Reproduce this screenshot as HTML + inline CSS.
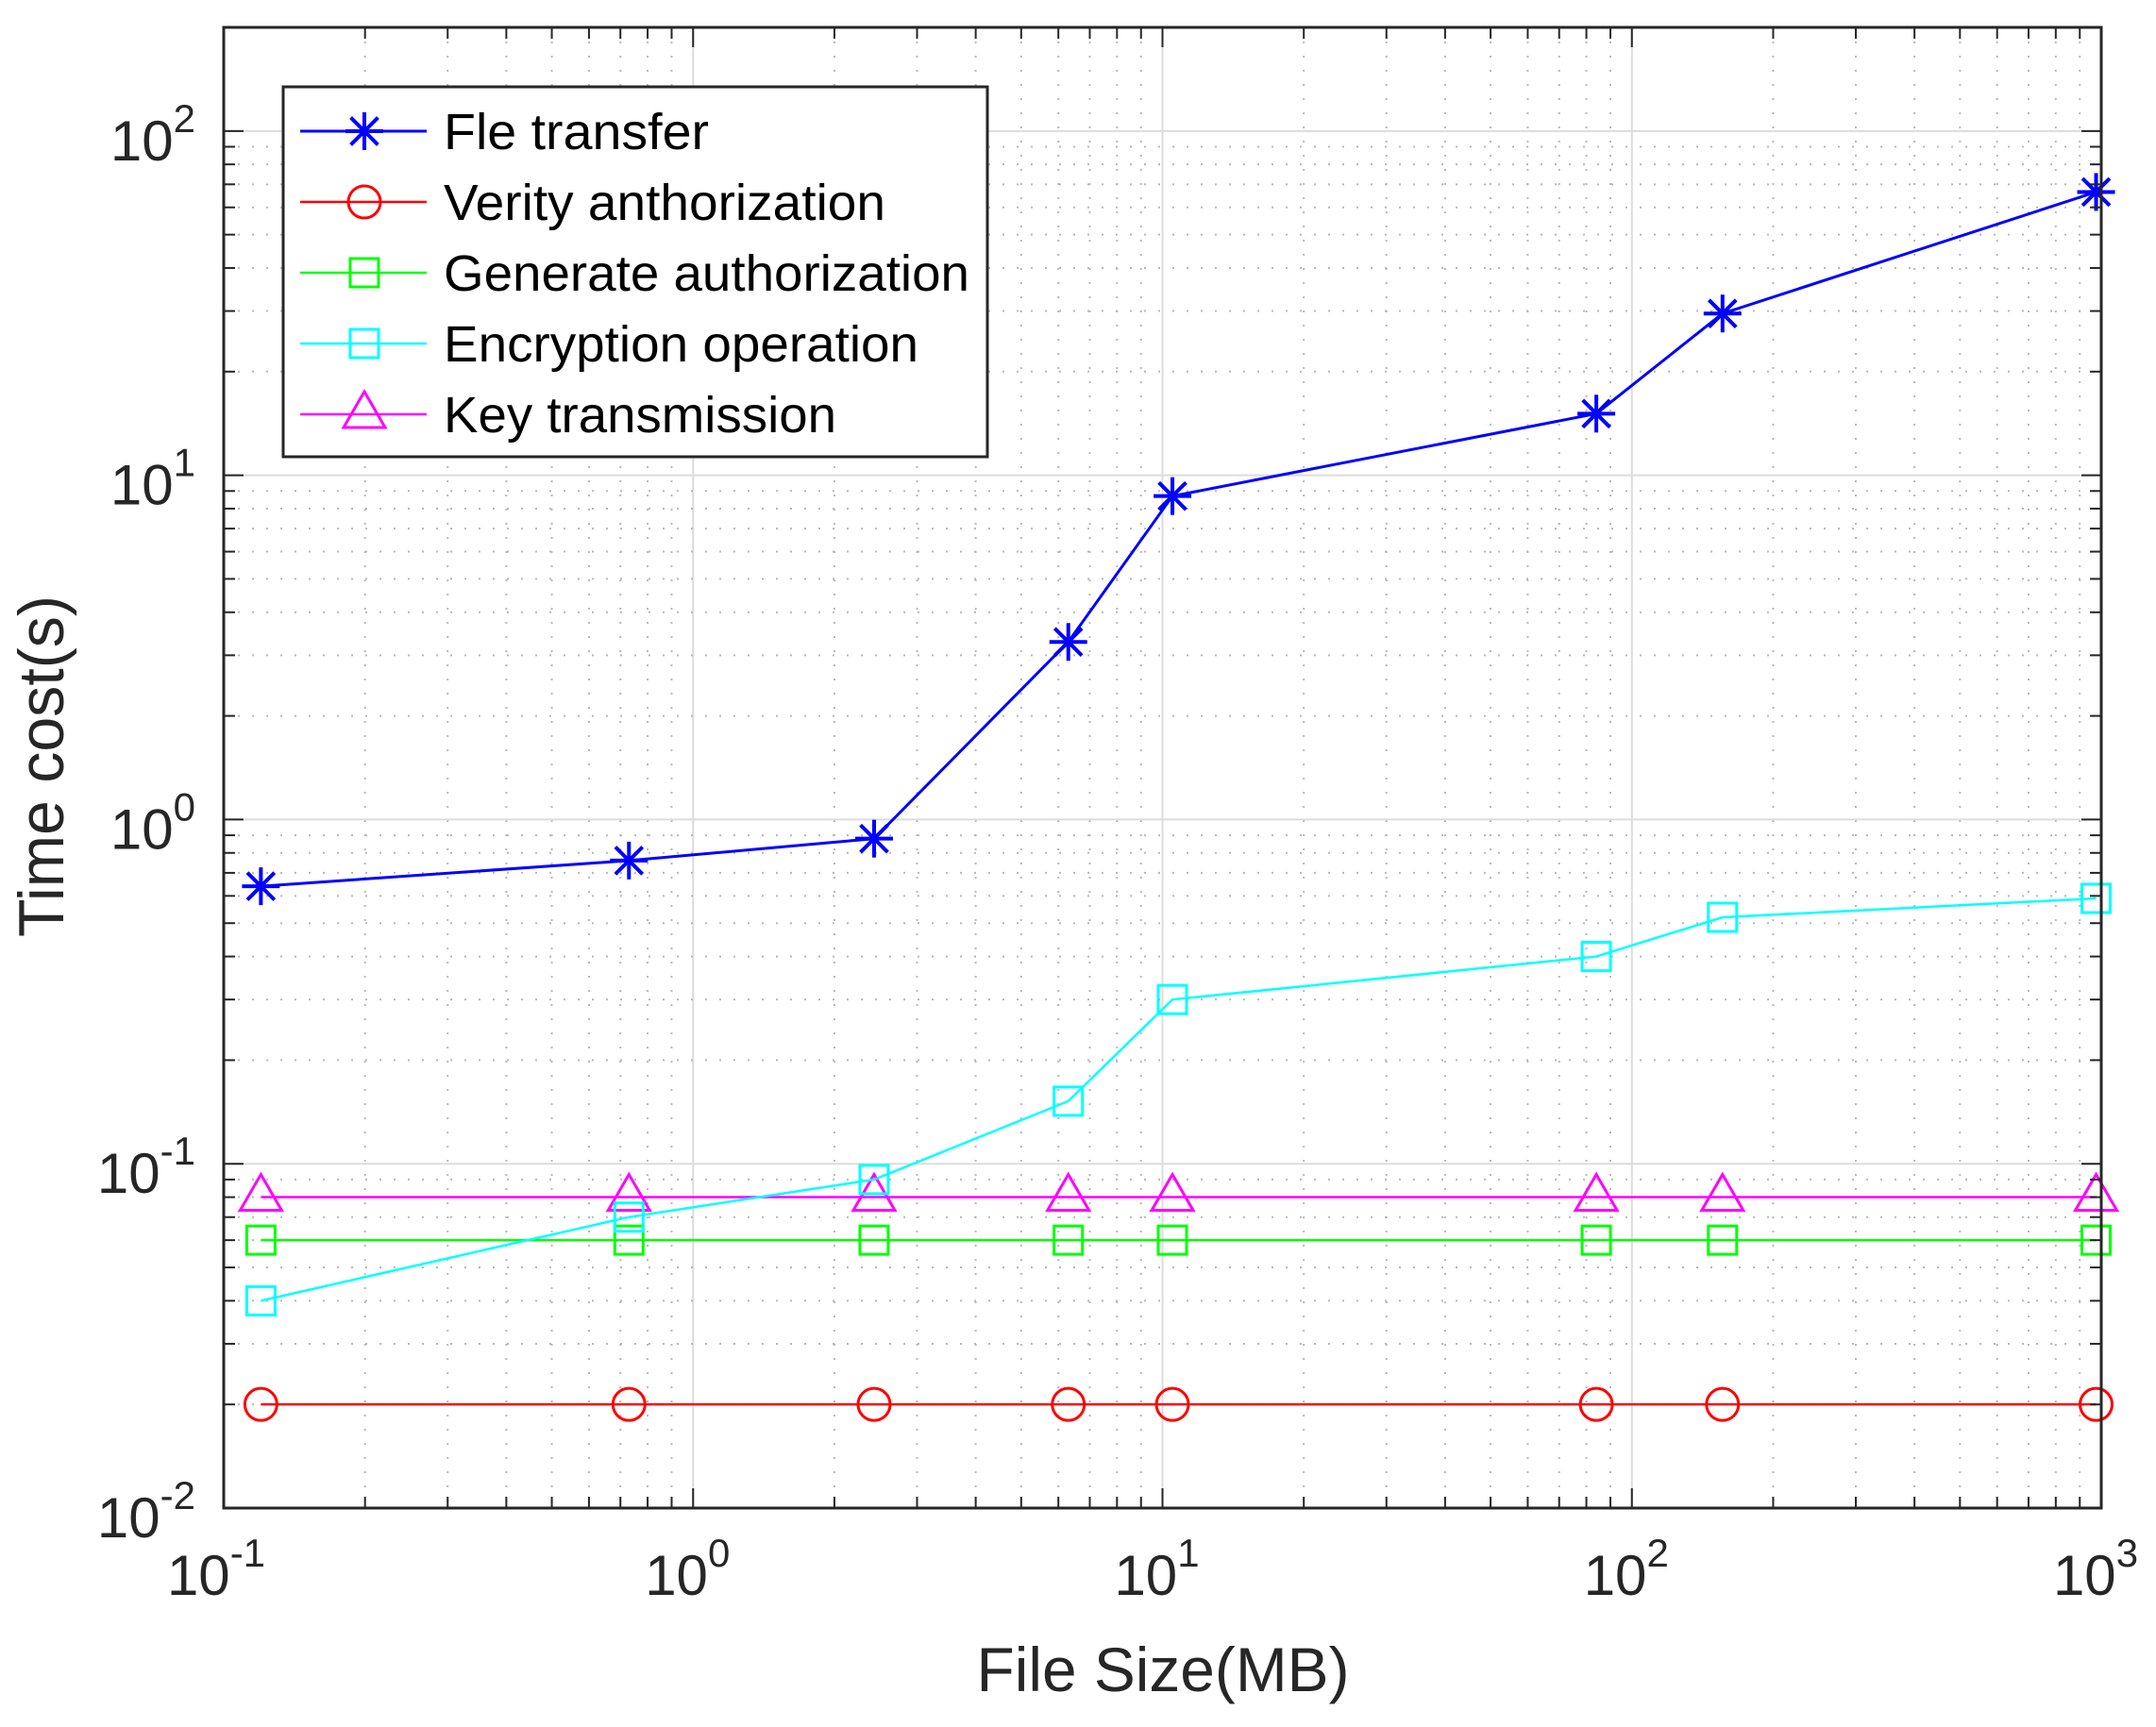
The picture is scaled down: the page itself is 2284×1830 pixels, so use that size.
<!DOCTYPE html>
<html><head><meta charset="utf-8"><style>
html,body{margin:0;padding:0;background:#fff;}
svg{display:block;font-family:"Liberation Sans",sans-serif;}
</style></head><body>
<svg id="chart" width="2284" height="1830" viewBox="0 0 2284 1830" xmlns="http://www.w3.org/2000/svg">
<rect width="2284" height="1830" fill="#fff"/>
<g id="grid"></g>
<g id="series"></g>
<g id="axes"></g>
<g id="legend"></g>
</svg>
<script>
const xValues = [0.12, 0.73, 2.43, 6.3, 10.5, 84, 156, 975];
const fileTransfer = [0.64, 0.76, 0.88, 3.28, 8.7, 15.1, 29.5, 66.5];
const verifyAuth = [0.02, 0.02, 0.02, 0.02, 0.02, 0.02, 0.02, 0.02];
const generateAuth = [0.06, 0.06, 0.06, 0.06, 0.06, 0.06, 0.06, 0.06];
const encryption = [0.04, 0.07, 0.09, 0.152, 0.3, 0.4, 0.52, 0.59];
const keyTrans = [0.08, 0.08, 0.08, 0.08, 0.08, 0.08, 0.08, 0.08];
const xTickExps = ["-1","0","1","2","3"];
const yTickExps = ["-2","-1","0","1","2"];
const seriesNames = ["Fle transfer","Verity anthorization","Generate authorization","Encryption operation","Key transmission"];

const NS="http://www.w3.org/2000/svg";
const L=237,R=2226,T=29,B=1598;
const xMin=-1,xMax=3,yMin=-2,yMax=Math.log10(200);
function xs(v){return L+(Math.log10(v)-xMin)/(xMax-xMin)*(R-L);}
function ys(v){return B-(Math.log10(v)-yMin)/(yMax-yMin)*(B-T);}
function mk(tag,attrs,parent){const e=document.createElementNS(NS,tag);for(const k in attrs)e.setAttribute(k,attrs[k]);parent.appendChild(e);return e;}
const grid=document.getElementById('grid'),axes=document.getElementById('axes'),ser=document.getElementById('series'),leg=document.getElementById('legend');

for(let d=-1;d<3;d++){for(let m=1;m<10;m++){const v=m*Math.pow(10,d);const x=xs(v);
 if(m===1){if(d>-1){const g=mk('line',{x1:x,x2:x,y1:T,y2:B,stroke:'#dcdcdc','stroke-width':2},grid);}}
 else{const g=mk('line',{x1:x,x2:x,y1:T,y2:B,stroke:'#b8b8b8','stroke-width':2,'stroke-dasharray':'2 13'},grid);}
 const tl=m===1?21:12;
 mk('line',{x1:x,x2:x,y1:B,y2:B-tl,stroke:'#262626','stroke-width':2},axes);
 mk('line',{x1:x,x2:x,y1:T,y2:T+tl,stroke:'#262626','stroke-width':2},axes);
}}
for(let d=-2;d<3;d++){for(let m=1;m<10;m++){const v=m*Math.pow(10,d);if(v>200)break;const y=ys(v);
 if(m===1){if(d>-2){const g=mk('line',{x1:L,x2:R,y1:y,y2:y,stroke:'#dcdcdc','stroke-width':2},grid);}}
 else{const g=mk('line',{x1:L,x2:R,y1:y,y2:y,stroke:'#b8b8b8','stroke-width':2,'stroke-dasharray':'2 13'},grid);}
 const tl=m===1?21:12;
 mk('line',{x1:L,x2:L+tl,y1:y,y2:y,stroke:'#262626','stroke-width':2},axes);
 mk('line',{x1:R,x2:R-tl,y1:y,y2:y,stroke:'#262626','stroke-width':2},axes);
}}
const frame=mk('rect',{x:L,y:T,width:R-L,height:B-T,fill:'none',stroke:'#262626','stroke-width':3},axes);



xTickExps.forEach(e=>{const x=xs(Math.pow(10,+e));
 const t=mk('text',{x:x+ (e.startsWith('-')?-8:-6),y:1690,'text-anchor':'middle','font-size':60,fill:'#262626'},axes);
 
 
 t.textContent='10';
 const s=mk('tspan',{dy:-30,'font-size':42},t);s.textContent=e;
});
yTickExps.forEach(e=>{const y=ys(Math.pow(10,+e));
 const t=mk('text',{x:207,y:y+31,'text-anchor':'end','font-size':60,fill:'#262626'},axes);
 
 
 t.textContent='10';
 const s=mk('tspan',{dy:-30,'font-size':42},t);s.textContent=e;
});
const xl=mk('text',{x:1232,y:1792,'text-anchor':'middle','font-size':66,fill:'#262626',textLength:395,lengthAdjust:'spacingAndGlyphs'},axes);


xl.textContent='File Size(MB)';
const yl=mk('text',{x:0,y:0,'text-anchor':'middle','font-size':68,fill:'#262626',transform:'translate(67,812) rotate(-90)',textLength:362,lengthAdjust:'spacingAndGlyphs'},axes);


yl.textContent='Time cost(s)';

function marker(type,x,y,color,parent){
 let e;
 if(type==='star'){e=mk('g',{stroke:color,'stroke-width':4,fill:'none'},parent);const r=20;
  mk('line',{x1:x-r,x2:x+r,y1:y,y2:y},e);mk('line',{x1:x,x2:x,y1:y-r,y2:y+r},e);
  const a=r*0.72;mk('line',{x1:x-a,x2:x+a,y1:y-a,y2:y+a},e);mk('line',{x1:x-a,x2:x+a,y1:y+a,y2:y-a},e);}
 else if(type==='circle'){e=mk('ellipse',{cx:x,cy:y,rx:17,ry:17,fill:'none',stroke:color,'stroke-width':3},parent);}
 else if(type==='square'){e=mk('rect',{x:x-15,y:y-15,width:30,height:30,fill:'none',stroke:color,'stroke-width':3},parent);}
 else{e=mk('polygon',{points:`${x},${y-24} ${x+22},${y+14} ${x-22},${y+14}`,fill:'none',stroke:color,'stroke-width':3},parent);}
 return e;
}
const defs=[
 {vals:fileTransfer,color:'#0000ff',m:'star',w:3,key:'file-transfer'},
 {vals:verifyAuth,color:'#ff0000',m:'circle',w:2.5,key:'verify-authorization'},
 {vals:generateAuth,color:'#00ff00',m:'square',w:2.5,key:'generate-authorization'},
 {vals:encryption,color:'#00ffff',m:'square',w:2.5,key:'encryption-operation'},
 {vals:keyTrans,color:'#ff00ff',m:'triangle',w:2.5,key:'key-transmission'}
];
[4,2,1,3,0].forEach(i=>{const d=defs[i];
 const g=mk('g',{},ser);
 
 
 const pts=xValues.map((x,j)=>xs(x)+','+ys(d.vals[j])).join(' ');
 const pl=mk('polyline',{points:pts,fill:'none',stroke:d.color,'stroke-width':d.w},g);
 
 
 xValues.forEach((x,j)=>{const m=marker(d.m,xs(x),ys(d.vals[j]),d.color,g);
  
  
 });
});

const lb=mk('rect',{x:300,y:92,width:746,height:392,fill:'#fff',stroke:'#262626','stroke-width':3},leg);


const rowY=[139,214,289,364,439];
const tLens=[281,468,557,503,416];
defs.forEach((d,i)=>{const y=rowY[i];
 const g=mk('g',{},leg);
 
 
 mk('line',{x1:318,x2:452,y1:y,y2:y,stroke:d.color,'stroke-width':d.w},g);
 marker(d.m,386,y,d.color,g);
 const t=mk('text',{x:470,y:y+19,'font-size':54,fill:'#000',textLength:tLens[i],lengthAdjust:'spacingAndGlyphs'},g);
 t.textContent=seriesNames[i];
});
</script>
</body></html>
